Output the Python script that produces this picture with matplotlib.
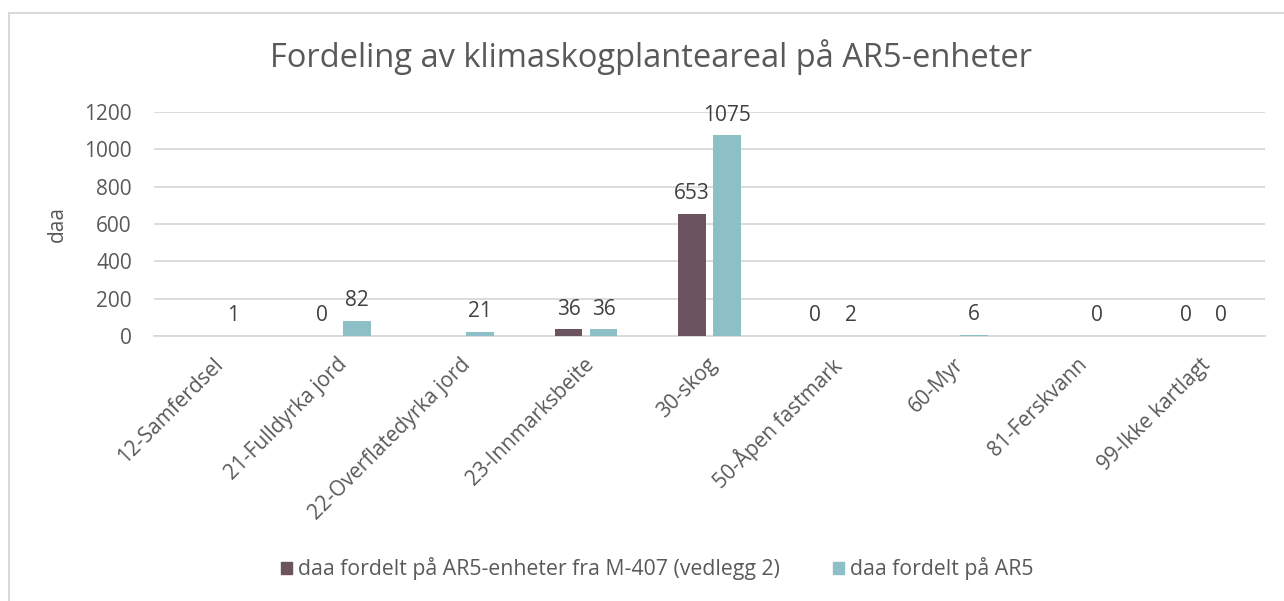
import matplotlib
matplotlib.use("Agg")
import matplotlib.pyplot as plt
from matplotlib.patches import Rectangle
from matplotlib.lines import Line2D
from matplotlib.transforms import ScaledTranslation
import numpy as np

categories = ["12-Samferdsel", "21-Fulldyrka jord", "22-Overflatedyrka jord",
              "23-Innmarksbeite", "30-skog", "50-Åpen fastmark", "60-Myr",
              "81-Ferskvann", "99-Ikke kartlagt"]
series1_name = "daa fordelt på AR5-enheter fra M-407 (vedlegg 2)"
series2_name = "daa fordelt på AR5"
series1 = [None, 0, None, 36, 653, 0, None, None, 0]
series2 = [1, 82, 21, 36, 1075, 2, 6, 0, 0]
yticks = [0, 200, 400, 600, 800, 1000, 1200]

c1 = "#6B535F"
c2 = "#8CC0C6"
txt = "#595959"
FONT = "Open Sans"
FS = 15
plt.rcParams['font.family'] = [FONT, 'DejaVu Sans']

fig = plt.figure(figsize=(12.84, 6.01), dpi=100)
W, H = 1284, 601
ax = fig.add_axes([154 / W, 1 - 336 / H, (1265 - 154) / W, (336 - 112) / H])

# outer border (left and top edges visible)
fig.lines.append(Line2D([8.5 / W, 8.5 / W], [0, 1 - 13 / H], transform=fig.transFigure,
                        color="#D9D9D9", linewidth=1.5))
fig.lines.append(Line2D([8.5 / W, 1], [1 - 13 / H, 1 - 13 / H], transform=fig.transFigure,
                        color="#D9D9D9", linewidth=1.5))

x = np.arange(len(categories))
bw = 0.225
off = 0.142
for vals, sgn, col in [(series1, -1, c1), (series2, 1, c2)]:
    for i, v in enumerate(vals):
        if v is None:
            continue
        ax.bar(x[i] + sgn * off, v, width=bw, color=col, zorder=3)
        ax.annotate(str(v), (x[i] + sgn * off, v), xytext=(0, 7),
                    textcoords="offset points", ha="center", va="bottom",
                    fontsize=FS, color="#404040")

ax.set_xlim(-0.5, len(categories) - 0.5)
ax.set_ylim(0, 1200)
ax.set_yticks(yticks)
ax.set_yticklabels([str(t) for t in yticks], fontsize=FS, color=txt)
ax.yaxis.grid(True, color="#D9D9D9", linewidth=1.3, zorder=0)
ax.set_axisbelow(True)
for s in ["top", "right", "left"]:
    ax.spines[s].set_visible(False)
ax.spines["bottom"].set_color("#D9D9D9")
ax.spines["bottom"].set_linewidth(1.3)
ax.tick_params(axis="both", length=0)
ax.tick_params(axis="y", pad=16)
ax.set_xticks(x)
ax.set_xticklabels(categories, rotation=45, ha="right", rotation_mode="anchor",
                   fontsize=FS, color=txt)
ax.tick_params(axis="x", pad=13)
shift = ScaledTranslation(-0.03, 0, fig.dpi_scale_trans)
for lab in ax.get_xticklabels():
    lab.set_transform(lab.get_transform() + shift)
ax.set_ylabel("daa", fontsize=FS, color=txt, labelpad=12)

fig.text(651 / W, 1 - 67 / H, "Fordeling av klimaskogplanteareal på AR5-enheter",
         ha="center", va="baseline", fontsize=23.5, color=txt)

h1 = Rectangle((0, 0), 1, 1, color=c1)
h2 = Rectangle((0, 0), 1, 1, color=c2)
fig.legend([h1, h2], [series1_name, series2_name], loc="center",
           bbox_to_anchor=(657 / W, 1 - 569 / H), ncol=2, frameon=False,
           fontsize=15.3, labelcolor=txt, handlelength=0.55, handleheight=0.55,
           handletextpad=0.25, columnspacing=2.5)

fig.savefig("out.png", dpi=100, facecolor="white")
